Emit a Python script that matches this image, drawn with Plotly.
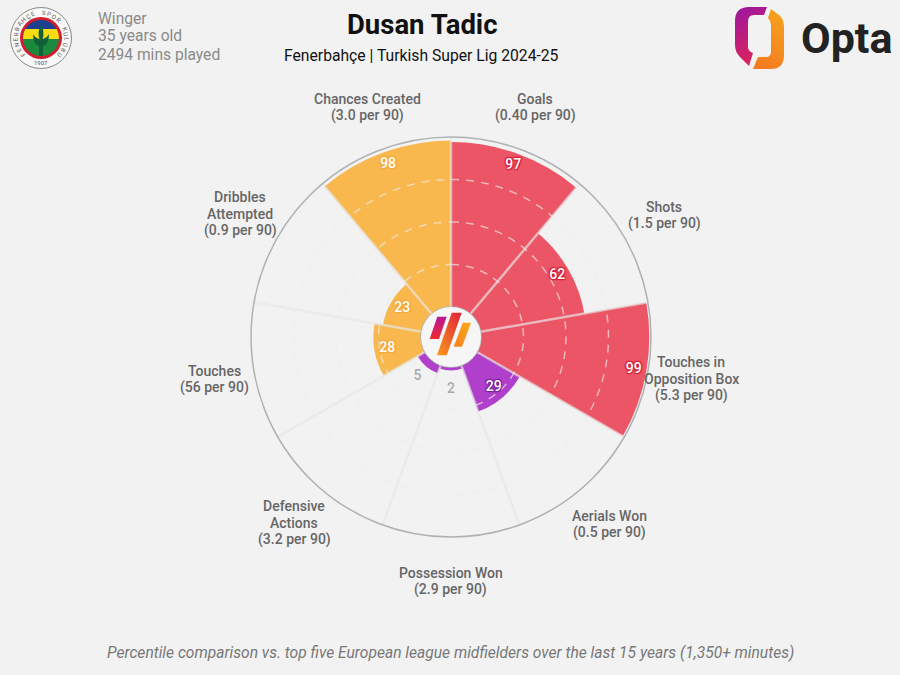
import base64
import numpy as np
import plotly.graph_objects as go

metrics = ['Goals', 'Shots', 'Touches in<br>Opposition Box', 'Aerials Won', 'Possession Won',
           'Defensive<br>Actions', 'Touches', 'Dribbles<br>Attempted', 'Chances Created']
per90 = ['0.40', '1.5', '5.3', '0.5', '2.9', '3.2', '56', '0.9', '3.0']
percentiles = [97, 62, 99, 29, 2, 5, 28, 23, 98]
groups = ['attack', 'attack', 'attack', 'mid', 'mid', 'mid', 'ball', 'ball', 'ball']
rings = [25, 50, 75]

colors = {'attack': '#ec5565', 'mid': '#b03fcb', 'ball': '#f8b84e'}
halos = {'attack': '#d41c35', 'mid': '#7a1c98', 'ball': '#f3a93a'}
BG = '#f2f2f2'
FONT = 'Roboto'

# pixel spots for the labels round the wheel, same order as metrics
label_xy = [(535, 107), (664, 215), (691, 379), (609, 524), (451, 581),
            (294, 523), (214, 379), (240, 214), (367, 107)]

CX, CY, R = 451, 337, 200
W, H = 900, 675

step = 360 / len(metrics)
centers = [step * i + step / 2 for i in range(len(metrics))]

fig = go.Figure()
fig.add_trace(go.Barpolar(
    r=percentiles, theta=centers, width=step,
    marker=dict(color=[colors[g] for g in groups], line=dict(width=0)),
    hoverinfo='skip'
))

# spokes between the sectors
spoke_r, spoke_t = [], []
for i in range(len(metrics)):
    spoke_r += [0, 100, None]
    spoke_t += [step * i, step * i, None]
fig.add_trace(go.Scatterpolar(r=spoke_r, theta=spoke_t, mode='lines',
                              line=dict(color='rgba(230,230,230,0.65)', width=2.5), hoverinfo='skip'))

# dashed rings
circle = np.arange(0, 361, 2)
for ring in rings:
    fig.add_trace(go.Scatterpolar(r=[ring] * len(circle), theta=circle, mode='lines',
                                  line=dict(color='rgba(236,236,236,0.65)', width=1.5, dash='8px,7px'),
                                  hoverinfo='skip'))

# value labels sit a little inside the end of each bar
for g in colors:
    idx = [i for i, k in enumerate(groups) if k == g and percentiles[i] >= 10]
    h = halos[g]
    fig.add_trace(go.Scatterpolar(
        r=[percentiles[i] - 7.5 for i in idx], theta=[centers[i] for i in idx],
        text=[str(percentiles[i]) for i in idx], mode='text',
        textfont=dict(family=FONT, size=14, color='white', weight=500,
                      shadow='1px 1px 1px {0}, -1px -1px 1px {0}, 1px -1px 1px {0}, -1px 1px 1px {0}'.format(h)),
        hoverinfo='skip'
    ))
low = [i for i, v in enumerate(percentiles) if v < 10]
fig.add_trace(go.Scatterpolar(
    r=[13] * len(low), theta=[centers[i] for i in low],
    text=[str(percentiles[i]) for i in low], mode='text',
    textfont=dict(family=FONT, size=14, color='#aaaaaa', weight=500), hoverinfo='skip'
))


def txt(x, y, text, size, color='#666666', weight=500, xanchor='center', style='normal'):
    fig.add_annotation(x=x / W, y=1 - y / H, xref='paper', yref='paper', text=text, showarrow=False,
                       xanchor=xanchor, yanchor='middle', align='center',
                       font=dict(family=FONT, size=size, color=color, weight=weight, style=style))


# one annotation per line, plotly's own line gap is too wide here
GAP = 16.8
for name, rate, (x, y) in zip(metrics, per90, label_xy):
    lines = name.split('<br>') + ['(%s per 90)' % rate]
    for n, line in enumerate(lines):
        txt(x, y + (n - (len(lines) - 1) / 2) * GAP, line, 14)

txt(422, 24, 'Dusan Tadic', 27.5, '#111111', 700)
txt(421.5, 56, 'Fenerbahçe | Turkish Super Lig 2024-25', 15.7, '#111111', 400)
txt(96, 18.5, 'Winger', 15.6, '#8a8a8a', 400, 'left')
txt(96, 36.5, '35 years old', 15.6, '#8a8a8a', 400, 'left')
txt(96, 54.5, '2494 mins played', 15.6, '#8a8a8a', 400, 'left')
txt(451, 653, 'Percentile comparison vs. top five European league midfielders over the last 15 years (1,350+ minutes)',
    15.6, '#777777', 400, style='italic')
txt(799, 38, 'Opta', 43, '#222222', 700, 'left')


def svg_uri(body, w, h):
    svg = '<svg xmlns="http://www.w3.org/2000/svg" width="%d" height="%d" viewBox="0 0 %d %d">%s</svg>' % (w, h, w, h, body)
    return 'data:image/svg+xml;base64,' + base64.b64encode(svg.encode()).decode()


def add_img(x, y, w, h, body):
    fig.add_layout_image(source=svg_uri(body, w, h), xref='paper', yref='paper', x=x / W, y=1 - y / H,
                         sizex=w / W, sizey=h / H, xanchor='left', yanchor='top', sizing='stretch', layer='below')


# middle badge is above the plot, the others are out of the way
add_img(416, 302, 70, 70, '''
<defs>
<linearGradient id="a" x1="0" y1="0" x2="0" y2="1"><stop offset="0" stop-color="#b8189a"/><stop offset="1" stop-color="#f0282c"/></linearGradient>
<linearGradient id="b" x1="1" y1="0" x2="0" y2="1"><stop offset="0" stop-color="#e0203c"/><stop offset="1" stop-color="#fa9a1a"/></linearGradient>
<linearGradient id="c" x1="1" y1="0" x2="0" y2="1"><stop offset="0" stop-color="#fbab1a"/><stop offset="1" stop-color="#f67f1e"/></linearGradient>
</defs>
<circle cx="35" cy="35" r="30" fill="#f6f6f6"/>
<path d="M21.3 14.7 H30.7 L23 37 H13.7 Z" fill="url(#a)"/>
<path d="M35.7 10.7 H45.7 L30.7 53.3 H21 Z" fill="url(#b)"/>
<path d="M46.7 20.7 H55 L46 44.7 H37.7 Z" fill="url(#c)"/>
''')
fig.layout.images[0].layer = 'above'

# Opta mark
add_img(733, 5, 54, 66, '''
<defs>
<linearGradient id="p" x1="0.3" y1="0" x2="0.6" y2="1"><stop offset="0" stop-color="#a0189a"/><stop offset="1" stop-color="#e0245a"/></linearGradient>
<linearGradient id="o" x1="0.6" y1="0" x2="0.3" y2="1"><stop offset="0" stop-color="#f5a01d"/><stop offset="1" stop-color="#f47b20"/></linearGradient>
</defs>
<path d="M34 2 L31 10 L21 10 Q15 10 15 17 L15 42 Q15 46 20 48 L16 61 L7 52 Q2 47 2 40 L2 16 Q2 2 16 2 Z" fill="url(#p)"/>
<path d="M38 4 L46 10 Q51 14 51 22 L51 50 Q51 64 38 64 L20 64 L25 52 L33 52 Q38 52 38 46 L38 20 Q38 16 35 13 Z" fill="url(#o)"/>
''')

# club crest
add_img(8, 6, 66, 66, '''
<defs><clipPath id="s"><circle cx="33" cy="32" r="18"/></clipPath></defs>
<circle cx="33" cy="32" r="30.5" fill="#f8f8f8" stroke="#888888" stroke-width="1"/>
<circle cx="33" cy="32" r="21" fill="#cf1f2e"/>
<g clip-path="url(#s)">
<rect x="10" y="10" width="46" height="13" fill="#1c3f8f"/>
<rect x="10" y="23" width="46" height="10" fill="#f7dc10"/>
<rect x="10" y="33" width="46" height="20" fill="#1c8a3e"/>
</g>
<path d="M33 19 Q37 26 34.5 33 Q39 32 41 28 Q41 38 35 40 L35 50 H31 L31 40 Q25 38 25 28 Q27 32 31.5 33 Q29 26 33 19 Z" fill="#11603a"/>
''')

# lettering round the crest
ring_text = 'FENERBAHÇE SPOR KULÜBÜ'
for k, ch in enumerate(ring_text):
    a = -132 + k * 264 / (len(ring_text) - 1)
    fig.add_annotation(x=(41 + 25.5 * np.sin(np.radians(a))) / W, y=1 - (38 - 25.5 * np.cos(np.radians(a))) / H,
                       xref='paper', yref='paper', text=ch, textangle=a, showarrow=False,
                       xanchor='center', yanchor='middle',
                       font=dict(family=FONT, size=6, color='#555555'))
txt(41, 62, '1907', 6, '#555555', 400)

fig.update_layout(
    width=W, height=H, showlegend=False,
    paper_bgcolor=BG, plot_bgcolor=BG,
    margin=dict(l=0, r=0, t=0, b=0),
    polar=dict(
        domain=dict(x=[(CX - R) / W, (CX + R) / W], y=[1 - (CY + R) / H, 1 - (CY - R) / H]),
        bgcolor=BG, hole=0.15,
        radialaxis=dict(range=[0, 100], visible=False, showgrid=False),
        angularaxis=dict(direction='clockwise', rotation=90, showgrid=False, showticklabels=False,
                         ticks='', linecolor='#adb2b2', linewidth=1.5),
        barmode='overlay'
    )
)

fig.write_html("out.html", config=dict(displayModeBar=False), post_script="document.body.style.margin='0'")
